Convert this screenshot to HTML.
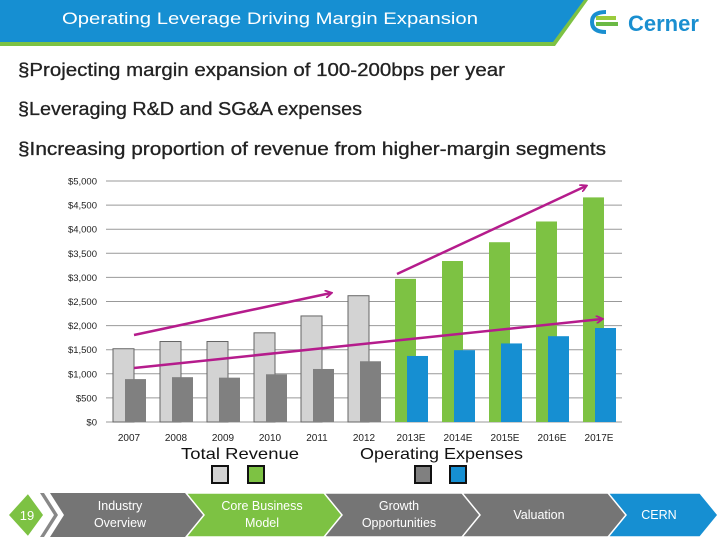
<!DOCTYPE html>
<html><head><meta charset="utf-8"><style>
body{margin:0;width:720px;height:540px;overflow:hidden;background:#fff;font-family:"Liberation Sans",sans-serif;}
svg text{font-family:"Liberation Sans",sans-serif;}
</style></head><body>
<svg width="720" height="540">
<g>
<polygon points="0,0 588,0 555,46 0,46" fill="#7dc243"/>
<polygon points="0,0 584,0 553,42 0,42" fill="#168fd2"/>
<text x="62" y="24" fill="#fff" font-size="17" textLength="416" lengthAdjust="spacingAndGlyphs">Operating Leverage Driving Margin Expansion</text>
<g>
<path d="M606,12 q-14,0 -14,10 q0,10 14,10" stroke="#1a8fd0" stroke-width="4" fill="none"/>
<rect x="596" y="16" width="20" height="4" fill="#9acb3c"/><rect x="596" y="22" width="22" height="4" fill="#6bb945"/>
<text x="628" y="31" fill="#1a8fd0" font-size="22" font-weight="bold">Cerner</text>
</g></g>
<g font-size="18" fill="#222" stroke="#222" stroke-width="0.3">
<text x="18" y="76" textLength="487" lengthAdjust="spacingAndGlyphs">§Projecting margin expansion of 100-200bps per year</text>
<text x="18" y="115" textLength="344" lengthAdjust="spacingAndGlyphs">§Leveraging R&amp;D and SG&amp;A expenses</text>
<text x="18" y="155" textLength="588" lengthAdjust="spacingAndGlyphs">§Increasing proportion of revenue from higher-margin segments</text>
</g>
<g id="chart"></g>
<g font-size="16" fill="#111">
<text x="181" y="459" textLength="118" lengthAdjust="spacingAndGlyphs">Total Revenue</text>
<text x="360" y="459" textLength="163" lengthAdjust="spacingAndGlyphs">Operating Expenses</text>
<rect x="212" y="466" width="16" height="17" fill="#d3d3d3" stroke="#111" stroke-width="2"/>
<rect x="248" y="466" width="16" height="17" fill="#7dc243" stroke="#111" stroke-width="2"/>
<rect x="415" y="466" width="16" height="17" fill="#808080" stroke="#111" stroke-width="2"/>
<rect x="450" y="466" width="16" height="17" fill="#168fd2" stroke="#111" stroke-width="2"/>
</g>
<g font-size="12.5" fill="#fff" text-anchor="middle">
<polygon points="50,493 190,493 208,515 190,537 50,537 64,515" fill="#757575"/>
<polygon points="186,493 328,493 346,515 328,537 186,537 204,515" fill="#7dc243" stroke="#fff" stroke-width="1.5"/>
<polygon points="324,493 466,493 484,515 466,537 324,537 342,515" fill="#757575" stroke="#fff" stroke-width="1.5"/>
<polygon points="462,493 612,493 630,515 612,537 462,537 480,515" fill="#757575" stroke="#fff" stroke-width="1.5"/>
<polygon points="608,493 700,493 718,515 700,537 608,537 626,515" fill="#168fd2" stroke="#fff" stroke-width="1.5"/>
<polygon points="44,493 58,515 44,537 40,537 54,515 40,493" fill="#888"/>
<polygon points="28,493 44,515 28,537 8,515" fill="#7dc243" stroke="#fff" stroke-width="1.5"/>
<text x="27" y="520" font-size="13">19</text>
<text x="120" y="510">Industry</text><text x="120" y="527">Overview</text>
<text x="262" y="510">Core Business</text><text x="262" y="527">Model</text>
<text x="399" y="510">Growth</text><text x="399" y="527">Opportunities</text>
<text x="539" y="519">Valuation</text>
<text x="659" y="519">CERN</text>
</g>
</svg>
<script>
const categories=["2007","2008","2009","2010","2011","2012","2013E","2014E","2015E","2016E","2017E"];
const revenue=[1520,1670,1670,1850,2200,2620,2970,3340,3730,4160,4660];
const opex=[890,930,920,990,1100,1260,1370,1490,1630,1780,1950];
const forecastFrom=6;
const yTicks=[0,500,1000,1500,2000,2500,3000,3500,4000,4500,5000];
const yTickLabels=["$0","$500","$1,000","$1,500","$2,000","$2,500","$3,000","$3,500","$4,000","$4,500","$5,000"];
const NS="http://www.w3.org/2000/svg";
const g=document.getElementById('chart');
const L=106,R=622,T=181,B=422,ymax=5000;
const slot=47;
const y=v=>B-(v/ymax)*(B-T);
const x=i=>L+7+i*slot;
function mk(tag,a){const e=document.createElementNS(NS,tag);for(const k in a)e.setAttribute(k,a[k]);g.appendChild(e);return e;}
yTicks.forEach((t,i)=>{
 const l=mk('line',{x1:L,x2:R,y1:y(t),y2:y(t),stroke:'#999','stroke-width':1});
 
 
 const tx=mk('text',{x:97,y:y(t)+3.5,'text-anchor':'end','font-size':9.5,fill:'#222'});
 tx.textContent=yTickLabels[i];
 
 
});
categories.forEach((c,i)=>{
 const f=i>=forecastFrom;
 const r=mk('rect',{x:x(i),y:y(revenue[i]),width:21,height:B-y(revenue[i]),fill:f?'#7dc243':'#d3d3d3',stroke:f?'none':'#666','stroke-width':1});
 
 
 const o=mk('rect',{x:x(i)+12,y:y(opex[i]),width:21,height:B-y(opex[i]),fill:f?'#168fd2':'#808080'});
 
 
 const tx=mk('text',{x:x(i)+16,y:441,'text-anchor':'middle','font-size':10,fill:'#222'});
 tx.textContent=c;
 
 
});
const defs=mk('defs',{});
defs.innerHTML='<marker id="ah" markerWidth="8" markerHeight="8" refX="6" refY="4" orient="auto" markerUnits="userSpaceOnUse"><path d="M0,0 L7,4 L0,8" fill="none" stroke="#b51c8c" stroke-width="1.8"/></marker>';
[[134,335,331,293],[134,368,602,319],[397,274,586,186]].forEach(a=>{
 const l=mk('line',{x1:a[0],y1:a[1],x2:a[2],y2:a[3],stroke:'#b51c8c','stroke-width':2.5,'marker-end':'url(#ah)'});
 
 
});
</script>
</body></html>
